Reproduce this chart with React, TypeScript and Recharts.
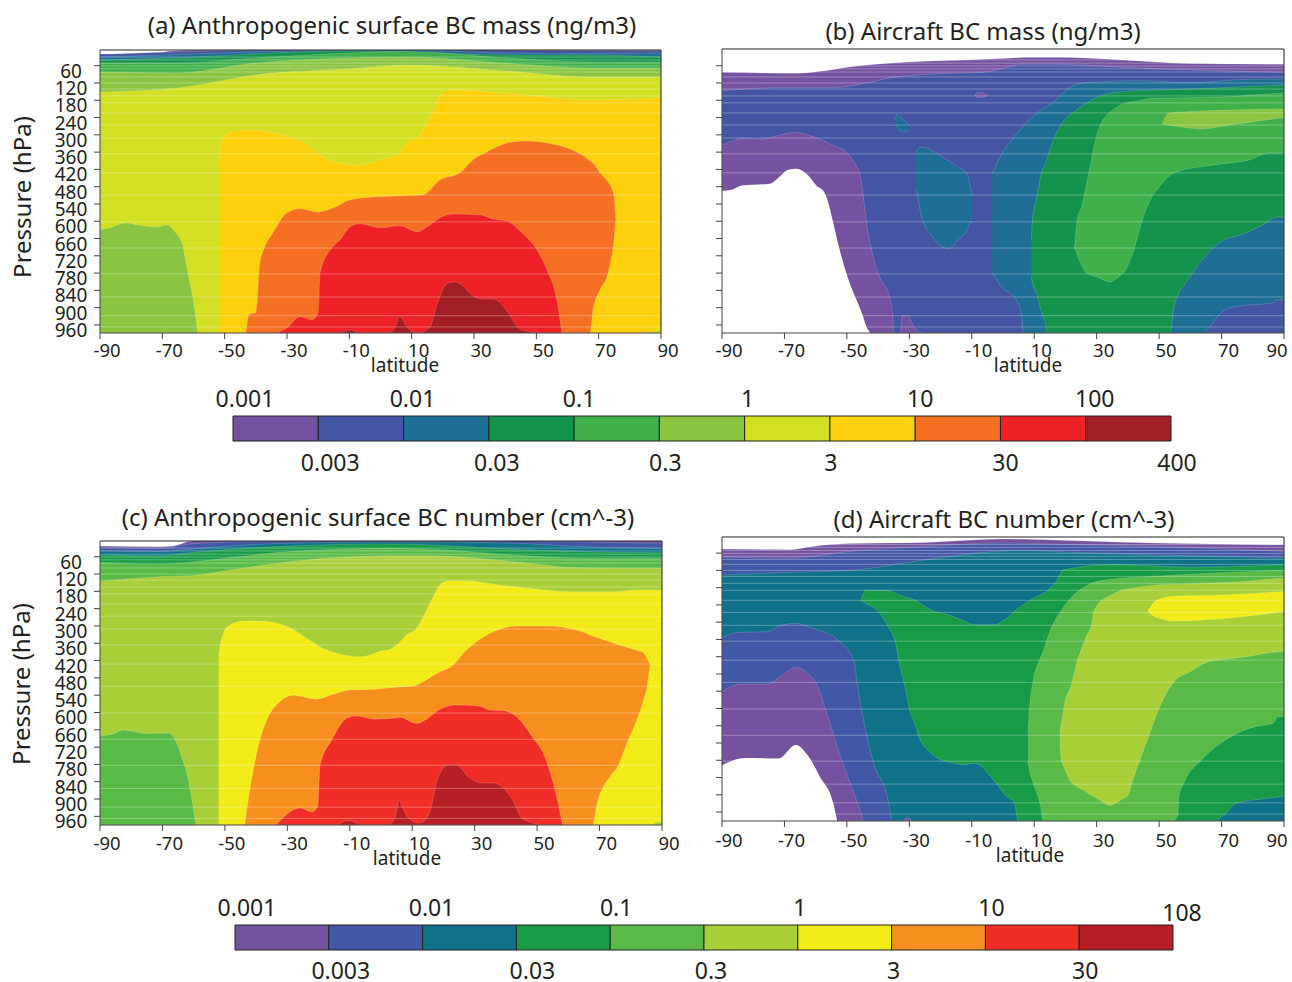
import { Area, AreaChart, Bar, BarChart, ReferenceLine, XAxis, YAxis } from 'recharts'

const FONT = '"Noto Sans", sans-serif'
const INK = '#231f20'

const MASS_COLORS = ['#7552a0', '#4355a3', '#1f6e96', '#14934c', '#40b04a', '#89c540', '#d2df22', '#fcd00a', '#f57023', '#ee2226', '#a21e22']
const NUM_COLORS = ['#7552a0', '#4257a5', '#0f7288', '#179b47', '#59ba47', '#a8cf38', '#f2eb17', '#f78f1e', '#f02d26', '#b81f24']

const LAT_TICKS = [-90, -70, -50, -30, -10, 10, 30, 50, 70, 90]
const P_TICKS = [60, 120, 180, 240, 300, 360, 420, 480, 540, 600, 660, 720, 780, 840, 900, 960]
// model levels, the faint white lines across the contours
const LEVELS = [30, 40, 51, 61, 71, 82, 99, 120, 141, 165, 189, 224, 266, 311, 366, 432, 509, 602, 693, 783, 863, 928, 967]

// Every contour is stored as latitude, upper edge (hPa) and optional lower edge (hPa).
// No lower edge means the band runs down to the surface.

// panel a
const A_TOP_LAT = [-90, -65, -40, -10, 8, 40, 67, 90]
const A_PURPLE_LAT = [-90, -72, -68, -60, 90]
const A_PURPLE = [19, 19, 10, 6, 6]
const A_BLUE = [21, 12, 6, 6, 6, 6, 8, 9]
const A_TEAL = [30, 21, 12, 7, 6, 16, 18, 16]
const A_DARK = [40, 33, 19, 9, 12, 23, 23, 30]
const A_GREEN = [51, 51, 33, 16, 11, 33, 47, 47]
const A_LIGHT = [82, 85, 51, 33, 30, 51, 68, 68]
const A_LIME = [151, 137, 92, 71, 58, 78, 99, 99]
const A_PATCH_LAT = [-90, -86.8, -82, -76.2, -71.7, -68.5, -65.9, -63.7, -61.8, -60.2, -58.6]
const A_PATCH = [630, 623, 606, 616, 620, 613, 637, 675, 779, 863, 988]
const A_GOLD_LAT = [-51.8, -51.2, -49.6, -46.7, -41.9, -35.5, -28, -24.2, -19.4, -13, -7.2, -0.2, 5.3, 8.5, 12.7, 15.9, 19, 22.3, 40.6, 67.2, 90]
const A_GOLD = [405, 335, 300, 287, 283, 290, 311, 328, 370, 398, 406, 387, 370, 328, 300, 241, 169, 144, 155, 179, 172]
const A_ORANGE_LAT = [-43.2, -42.1, -40, -38.7, -37.1, -34.5, -30, -25.8, -20.4, -15.2, -9.8, -2.4, 6.2, 13.6, 19.1, 25.5, 29.7, 34.2, 40.6, 47, 53.4, 64, 67.2, 68.2, 70.4, 73, 74.9, 75.5]
const A_ORANGE = [988, 922, 918, 745, 689, 640, 571, 557, 568, 554, 526, 516, 512, 509, 457, 432, 387, 359, 328, 321, 328, 366, 390, 398, 432, 464, 509, 595]
const A_ORANGE_LOW = [988, 988, 988, 988, 988, 988, 988, 988, 988, 988, 988, 988, 988, 988, 988, 988, 988, 988, 988, 988, 988, 988, 988, 908, 838, 780, 665, 595]
const A_RED_LAT = [-33.2, -30, -25.8, -22, -20, -19.4, -15.6, -13, -9.8, -6.6, -0.2, 6.2, 11.7, 14.9, 19.1, 23.3, 32, 36, 40.6, 44.8, 50.2, 53.4, 56.6, 58.2]
const A_RED = [988, 970, 932, 942, 918, 779, 693, 665, 620, 609, 623, 616, 637, 620, 588, 575, 578, 592, 599, 634, 700, 769, 873, 988]
const A_MAROON_LAT = [3, 4.6, 6.2, 8.5, 12, 15.9, 18.1, 21.6, 23.9, 26.1, 29.3, 32.6, 36.1, 41.5, 44.1, 50.2]
const A_MAROON = [988, 970, 932, 967, 988, 967, 890, 814, 811, 821, 856, 870, 870, 925, 970, 988]
const A_BUMP_LAT = [-13, -9.8, -7.2]
const A_BUMP = [988, 977, 988]
const A_CORNER_LAT = [87.4, 88.5, 90]
const A_CORNER = [988, 975, 975]

// panel b
const B_PURPLE_LAT = [-90, -65.1, -59.7, -45.9, -4.3, 9.4, 17, 38.2, 59.7, 90]
const B_PURPLE = [83, 86, 81, 60, 37, 31, 31, 40, 52, 55]
const B_BLUE_LAT = [-90, -71.5, -54.6, -33.1, -22.6, -6.6, -1.1, 6.2, 17, 38.2, 59.7, 90]
const B_BLUE = [147, 136, 136, 98, 89, 83, 72, 55, 55, 66, 75, 83]
const B_LOW_LAT = [-90, -86.6, -83.4, -78, -72.5, -66.7, -61, -54.6, -49.8, -46.9, -45.9, -45, -44.3, -43.7, -42.1, -39.5, -36.3, -35.4, -35]
const B_LOW = [335, 321, 312, 315, 304, 291, 306, 335, 363, 410, 432, 491, 550, 606, 700, 793, 863, 925, 988]
const B_HOLE_LAT = [-90, -86.9, -83.7, -74.7, -71.5, -69, -66.1, -62.6, -59.4, -57.8, -56.2, -54.6, -52.3, -49.8, -45, -43.7, -42.4]
const B_HOLE = [495, 491, 476, 470, 445, 422, 418, 439, 480, 491, 526, 595, 700, 793, 925, 967, 988]
const B_BUMP_LAT = [-32.8, -32.2, -30.6, -28.3, -26]
const B_BUMP = [988, 928, 928, 970, 988]
const B_DOT_LAT = [-9.1, -8, -7, -6, -5]
const B_DOT = [162, 155, 154, 156, 162]
const B_DOT_LOW = [162, 169, 170, 168, 162]
const B_FLECK_LAT = [-34.4, -34, -32.2, -30]
const B_FLECK = [250, 228, 245, 266]
const B_FLECK_LOW = [266, 272, 289, 283]
const B_ISLE_LAT = [-28, -27.7, -26.1, -22.6, -18.7, -17.1, -14.6, -11.7, -10.1, -9.8]
const B_ISLE = [363, 356, 342, 355, 382, 393, 412, 432, 498, 511]
const B_ISLE_LOW = [491, 498, 585, 653, 693, 696, 665, 636, 601, 601]
const B_TEAL_LAT = [-3.4, -0.2, 3.6, 5.9, 6.5, 11, 15.8, 22.2, 26.7, 43.7, 59.7, 78.9, 90]
const B_TEAL = [432, 363, 307, 276, 269, 224, 189, 130, 119, 112, 119, 107, 106]
const B_TEAL_LOW = [779, 831, 863, 925, 988, 988, 988, 988, 988, 988, 988, 988, 988]
const B_DARK_LAT = [9.1, 9.4, 10.7, 12.6, 13.3, 14.2, 15.8, 19, 23.5, 29.9, 38.2, 59.7, 90]
const B_DARK = [665, 595, 526, 422, 410, 380, 328, 259, 214, 171, 150, 141, 127]
const B_DARK_LOW = [790, 814, 849, 925, 942, 988, 988, 988, 988, 988, 988, 988, 988]
const B_GREEN_LAT = [22.9, 23.8, 25.4, 26.4, 27.7, 29.9, 31.5, 34, 36.6, 39.8, 42.1, 44.6, 47.5, 50.1, 54.9, 63.8, 70.2, 78.9, 85.3, 90]
const B_GREEN = [693, 595, 543, 491, 422, 306, 259, 224, 203, 188, 185, 179, 173, 172, 172, 170, 169, 162, 158, 155]
const B_GREEN_LOW = [693, 717, 758, 776, 786, 793, 800, 811, 797, 758, 693, 595, 519, 480, 432, 410, 401, 387, 363, 363]
const B_LIGHT_LAT = [51, 53.2, 57.4, 63.8, 72.4, 90]
const B_LIGHT = [262, 224, 221, 217, 214, 210]
const B_LIGHT_LOW = [262, 267, 273, 280, 266, 240]
const B_SE_TEAL_LAT = [53.2, 54, 54.4, 56.4, 58.7, 63.8, 69.2, 77.9, 84.3, 87.8, 90]
const B_SE_TEAL = [988, 967, 918, 849, 811, 734, 675, 641, 606, 585, 585]
const B_SE_BLUE_LAT = [64.5, 66.7, 69.2, 74, 86.2, 87.8, 90]
const B_SE_BLUE = [988, 960, 925, 897, 883, 873, 873]

// panel c
const C_TOP_LAT = [-90, -70.8, -61, -48, -29, 3, 15.7, 42.4, 63.7, 90]
const C_PURPLE_LAT = [-90, -70.8, -66.5, -62.2, -59, 90]
const C_PURPLE = [23, 25, 23, 9, 5, 5]
const C_BLUE = [27, 31, 16, 9, 6, 5, 5, 5, 9, 13]
const C_TEAL = [39, 42, 34, 23, 13, 9, 9, 13, 25, 31]
const C_DARK = [54, 57, 46, 34, 23, 16, 19, 34, 42, 46]
const C_GREEN = [80, 86, 79, 63, 42, 31, 34, 54, 65, 65]
const C_LIGHT = [146, 129, 126, 106, 77, 57, 57, 77, 98, 100]
const C_PATCH_LAT = [-90, -86.3, -82.5, -75, -68, -66.5, -63.8, -61.7, -60, -59.3]
const C_PATCH = [681, 676, 661, 673, 671, 684, 754, 835, 939, 990]
const C_YELLOW_LAT = [-52, -51.6, -50.5, -48.4, -44.1, -38.8, -29.1, -23.8, -18.5, -13.1, -6.7, -2.5, -0.3, 2.9, 5, 8.2, 11.4, 13.6, 16.8, 19.4, 22.1, 25.3, 42.4, 61.6, 74.4, 83, 90]
const C_YELLOW = [400, 372, 326, 297, 283, 283, 306, 343, 378, 397, 407, 397, 388, 381, 366, 331, 308, 268, 198, 152, 143, 143, 164, 181, 181, 175, 175]
const C_ORANGE_LAT = [-43.6, -42.2, -40.9, -38.8, -36.6, -32.4, -28.1, -20.6, -16.3, -9.9, -2.5, 2.9, 10.4, 13.6, 17.8, 23.4, 26.4, 30.6, 36, 43.5, 53, 62.7, 67.8, 69.1, 73.3, 75.7, 78.7, 81.9, 84, 85.1, 86.2]
const C_ORANGE = [990, 881, 800, 696, 627, 563, 540, 554, 540, 522, 520, 514, 508, 493, 465, 433, 395, 355, 320, 300, 300, 314, 335, 340, 355, 363, 374, 384, 392, 410, 433]
const C_ORANGE_LOW = [990, 990, 990, 990, 990, 990, 990, 990, 990, 990, 990, 990, 990, 990, 990, 990, 990, 990, 990, 990, 990, 990, 990, 922, 823, 789, 708, 627, 560, 517, 433]
const C_RED_LAT = [-33.6, -25.9, -22.2, -20.3, -19.5, -15.8, -10.5, -7.8, -1.9, 2.9, 6.1, 11.4, 14.1, 18.4, 23.7, 31.7, 34.9, 39.2, 44, 48.8, 52, 55.2, 58.2]
const C_RED = [990, 931, 945, 927, 783, 696, 617, 612, 623, 621, 617, 638, 627, 592, 574, 578, 592, 594, 621, 690, 742, 846, 990]
const C_MAROON_LAT = [2.4, 4.5, 5.9, 6.6, 9.1, 12, 14.6, 16.2, 17.8, 21.6, 24.2, 28, 32.3, 36, 41.9, 45.4, 52]
const C_MAROON = [990, 964, 904, 922, 968, 983, 968, 922, 841, 781, 781, 823, 844, 844, 898, 968, 990]
const C_BUMP_LAT = [-14.2, -10.5, -6.7]
const C_BUMP = [990, 974, 990]
const C_CORNER_LAT = [87.2, 88.5, 90]
const C_CORNER = [990, 980, 980]

// panel d
const D_PURPLE_LAT = [-90, -68.2, -61, -48.9, -24.7, -0.5, 23.6, 47.8, 90]
const D_PURPLE = [46, 48, 37, 27, 23, 11, 17, 25, 31]
const D_BLUE_LAT = [-90, -68.2, -48.9, -24.7, -0.5, 23.6, 47.8, 90]
const D_BLUE = [74, 77, 54, 37, 25, 31, 37, 54]
const D_TEAL_LAT = [-90, -68.2, -48.9, -24.7, 5.5, 23.6, 47.8, 90]
const D_TEAL = [136, 127, 120, 83, 51, 58, 66, 77]
const D_LOW_BLUE_LAT = [-90, -85.2, -75.5, -70.7, -66.4, -61, -52.5, -47.7, -46.7, -44, -41.6, -36.8, -35.6]
const D_LOW_BLUE = [356, 336, 333, 310, 304, 321, 365, 434, 513, 675, 785, 919, 991]
const D_LOW_LAT = [-90, -84, -75.5, -70.7, -66.4, -59.8, -56.8, -51.3, -46.5, -44.7]
const D_LOW = [542, 515, 515, 484, 458, 513, 605, 791, 931, 991]
const D_HOLE_LAT = [-90, -82.7, -71.9, -66.4, -62.2, -58.6, -54.3, -53.1]
const D_HOLE = [797, 772, 774, 727, 768, 838, 931, 991]
const D_BUMP_LAT = [-32.2, -30.5, -29]
const D_BUMP = [991, 980, 991]
const D_DARK_LAT = [-45.5, -44, -40.4, -36.8, -34.4, -33.2, -31.4, -29.6, -28.3, -27.1, -23.5, -16.9, -12.6, -9, -3, 0.7, 3.7, 4.9, 9.7, 13.9, 17, 19.4, 35.7, 59.9, 90]
const D_DARK = [225, 190, 190, 190, 200, 205, 213, 218, 222, 230, 255, 277, 295, 309, 309, 290, 262, 252, 217, 193, 159, 118, 100, 109, 100]
const D_DARK_LOW = [225, 235, 257, 315, 373, 443, 524, 617, 650, 693, 751, 788, 795, 790, 849, 900, 931, 991, 991, 991, 991, 991, 991, 991, 991]
const D_GREEN_LAT = [8, 8.5, 9.7, 11.6, 11.9, 13, 15.2, 18.8, 21.2, 27.3, 33.3, 47.8, 66, 90]
const D_GREEN = [687, 600, 501, 434, 426, 397, 327, 257, 222, 170, 153, 141, 130, 120]
const D_GREEN_LOW = [785, 815, 861, 919, 931, 991, 991, 991, 991, 991, 991, 991, 991, 991]
const D_LIGHT_LAT = [18.2, 18.8, 19.4, 21.8, 23.6, 26.7, 28.5, 29.1, 32.7, 33.9, 38.1, 40, 41.2, 46.6, 50.2, 54.8, 59.9, 66, 72, 78, 84.1, 90]
const D_LIGHT = [675, 645, 600, 520, 443, 350, 300, 263, 217, 210, 188, 185, 182, 174, 170, 169, 167, 164, 162, 158, 152, 147]
const D_LIGHT_LOW = [722, 785, 800, 855, 870, 890, 902, 906, 930, 937, 915, 902, 861, 699, 594, 507, 472, 437, 428, 420, 408, 402]
const D_YELLOW_LAT = [46.4, 49, 49.6, 53.9, 72, 90]
const D_YELLOW = [263, 225, 222, 211, 205, 193]
const D_YELLOW_LOW = [263, 283, 285, 296, 286, 263]
const D_SE_DARK_LAT = [54.5, 56, 56.3, 58.1, 63.5, 72, 80.5, 86.5, 88, 90]
const D_SE_DARK = [991, 971, 908, 855, 780, 704, 664, 652, 629, 629]
const D_SE_TEAL_LAT = [68.1, 71.4, 74.4, 84.1, 90]
const D_SE_TEAL = [991, 965, 931, 913, 905]

const M = MASS_COLORS
const N = NUM_COLORS

type Layer = [string, number[], number[], number[]?]

const LAYERS_A: Layer[] = [
  [M[0], A_PURPLE_LAT, A_PURPLE], [M[1], A_TOP_LAT, A_BLUE], [M[2], A_TOP_LAT, A_TEAL], [M[3], A_TOP_LAT, A_DARK],
  [M[4], A_TOP_LAT, A_GREEN], [M[5], A_TOP_LAT, A_LIGHT], [M[6], A_TOP_LAT, A_LIME], [M[5], A_PATCH_LAT, A_PATCH],
  [M[7], A_GOLD_LAT, A_GOLD], [M[6], A_CORNER_LAT, A_CORNER], [M[8], A_ORANGE_LAT, A_ORANGE, A_ORANGE_LOW],
  [M[9], A_RED_LAT, A_RED], [M[10], A_MAROON_LAT, A_MAROON], [M[10], A_BUMP_LAT, A_BUMP],
]
const LAYERS_B: Layer[] = [
  [M[0], B_PURPLE_LAT, B_PURPLE], [M[1], B_BLUE_LAT, B_BLUE], [M[0], B_LOW_LAT, B_LOW], ['#ffffff', B_HOLE_LAT, B_HOLE],
  [M[0], B_BUMP_LAT, B_BUMP], [M[0], B_DOT_LAT, B_DOT, B_DOT_LOW], [M[2], B_FLECK_LAT, B_FLECK, B_FLECK_LOW],
  [M[2], B_ISLE_LAT, B_ISLE, B_ISLE_LOW], [M[2], B_TEAL_LAT, B_TEAL, B_TEAL_LOW], [M[3], B_DARK_LAT, B_DARK, B_DARK_LOW],
  [M[4], B_GREEN_LAT, B_GREEN, B_GREEN_LOW], [M[5], B_LIGHT_LAT, B_LIGHT, B_LIGHT_LOW], [M[2], B_SE_TEAL_LAT, B_SE_TEAL],
  [M[1], B_SE_BLUE_LAT, B_SE_BLUE],
]
const LAYERS_C: Layer[] = [
  [N[0], C_PURPLE_LAT, C_PURPLE], [N[1], C_TOP_LAT, C_BLUE], [N[2], C_TOP_LAT, C_TEAL], [N[3], C_TOP_LAT, C_DARK],
  [N[4], C_TOP_LAT, C_GREEN], [N[5], C_TOP_LAT, C_LIGHT], [N[4], C_PATCH_LAT, C_PATCH], [N[6], C_YELLOW_LAT, C_YELLOW],
  [N[5], C_CORNER_LAT, C_CORNER], [N[7], C_ORANGE_LAT, C_ORANGE, C_ORANGE_LOW], [N[8], C_RED_LAT, C_RED],
  [N[9], C_MAROON_LAT, C_MAROON], [N[9], C_BUMP_LAT, C_BUMP],
]
const LAYERS_D: Layer[] = [
  [N[0], D_PURPLE_LAT, D_PURPLE], [N[1], D_BLUE_LAT, D_BLUE], [N[2], D_TEAL_LAT, D_TEAL], [N[1], D_LOW_BLUE_LAT, D_LOW_BLUE],
  [N[0], D_LOW_LAT, D_LOW], ['#ffffff', D_HOLE_LAT, D_HOLE], [N[0], D_BUMP_LAT, D_BUMP], [N[3], D_DARK_LAT, D_DARK, D_DARK_LOW],
  [N[4], D_GREEN_LAT, D_GREEN, D_GREEN_LOW], [N[5], D_LIGHT_LAT, D_LIGHT, D_LIGHT_LOW], [N[6], D_YELLOW_LAT, D_YELLOW, D_YELLOW_LOW],
  [N[3], D_SE_DARK_LAT, D_SE_DARK], [N[2], D_SE_TEAL_LAT, D_SE_TEAL],
]

const MASS_TOP = ['0.001', '0.01', '0.1', '1', '10', '100']
const MASS_BOTTOM = ['0.003', '0.03', '0.3', '3', '30', '400']
const NUM_TOP = ['0.001', '0.01', '0.1', '1', '10', '108']
const NUM_BOTTOM = ['0.003', '0.03', '0.3', '3', '30']

function Panel({ left, top, width, height, domain, layers, yLabels, lastDx, labelDy }: {
  left: number; top: number; width: number; height: number; domain: number[]; layers: Layer[]; yLabels: boolean; lastDx: number; labelDy: number
}) {
  const surface = domain[1]
  return (
    <div style={{ position: 'absolute', left: left - 60, top: top - 4 }}>
      <AreaChart width={width + 84} height={height + 40} margin={{ top: 4, right: 24, bottom: 0, left: 0 }}>
        <XAxis
          type="number"
          dataKey="lat"
          domain={[-90, 90]}
          ticks={LAT_TICKS}
          interval={0}
          height={36}
          stroke="#444"
          tickSize={6}
          tickMargin={3}
          tick={(p: any) => (
            <text x={p.x + (p.index === LAT_TICKS.length - 1 ? lastDx : 7)} y={p.y + labelDy} textAnchor="middle" fill={INK} fontSize={18.5} fontFamily={FONT}>
              {p.payload.value}
            </text>
          )}
        />
        <YAxis
          type="number"
          domain={domain}
          reversed
          allowDataOverflow
          ticks={P_TICKS}
          interval={0}
          width={60}
          stroke="#444"
          tickSize={6}
          tickMargin={3}
          tick={(p: any) => yLabels ? (
            <text x={p.x - 20} y={p.y + 12} textAnchor="middle" fill={INK} fontSize={19} fontFamily={FONT}>
              {p.payload.value}
            </text>
          ) : <g />}
        />
        {layers.map(([color, lat, upper, lower], i) => (
          <Area
            key={i}
            data={lat.map((l, k) => ({ lat: l, range: [upper[k], lower ? lower[k] : surface] }))}
            dataKey="range"
            type="monotoneX"
            fill={color}
            fillOpacity={1}
            stroke={color === '#ffffff' ? 'none' : 'rgba(255,255,255,0.28)'}
            strokeWidth={0.6}
            dot={false}
            activeDot={false}
            isAnimationActive={false}
          />
        ))}
        {LEVELS.map((p) => (
          <ReferenceLine key={p} y={p} stroke="rgba(255,255,255,0.3)" strokeWidth={1} />
        ))}
        <ReferenceLine y={domain[0]} stroke="#222" strokeWidth={1.2} />
        <ReferenceLine x={90} stroke="#444" strokeWidth={1.2} />
      </AreaChart>
    </div>
  )
}

// even ticks carry the labels above the bar, odd ticks the ones below it
function ColorBar({ left, top, width, colors, topLabels, bottomLabels, topDx, bottomDx, belowDy, lastTopDy }: {
  left: number; top: number; width: number; colors: string[]; topLabels: string[]; bottomLabels: string[]; topDx: number[]; bottomDx: number[]; belowDy: number; lastTopDy: number
}) {
  const row: Record<string, number | string> = { name: 'bar' }
  colors.forEach((_, i) => { row[`s${i}`] = 1 })
  const n = colors.length
  const positions = [...topLabels.map((_, i) => i * 2), ...bottomLabels.map((_, i) => i * 2 + 1)].sort((a, b) => a - b)
  const renderTick = (props: any) => {
    const v = props.payload.value
    const k = Math.floor(v / 2)
    const isTop = v % 2 === 0
    const dy = isTop ? (k === topLabels.length - 1 ? -1 + lastTopDy : -1) : belowDy
    return (
      <text x={props.x + (isTop ? topDx[k] : bottomDx[k])} y={props.y + dy} textAnchor="middle" fill={INK} fontSize={23} fontFamily={FONT}>
        {isTop ? topLabels[k] : bottomLabels[k]}
      </text>
    )
  }
  return (
    <div style={{ position: 'absolute', left: left - 40, top: top - 40 }}>
      <BarChart width={width + 90} height={105} data={[row]} layout="vertical" barCategoryGap={0} margin={{ top: 0, right: 50, bottom: 40, left: 40 }}>
        <XAxis
          type="number"
          orientation="top"
          domain={[0, n]}
          height={40}
          ticks={positions}
          interval={0}
          tickLine={false}
          axisLine={false}
          tick={renderTick}
        />
        <YAxis type="category" dataKey="name" hide />
        {colors.map((c, i) => (
          <Bar key={i} dataKey={`s${i}`} stackId="a" fill={c} stroke="#222" strokeWidth={1} isAnimationActive={false} />
        ))}
      </BarChart>
    </div>
  )
}

function Caption({ x, y, size, children, rotate }: { x: number; y: number; size: number; children: string; rotate?: boolean }) {
  return (
    <div style={{
      position: 'absolute', left: x, top: y, fontFamily: FONT, fontSize: size, color: INK, whiteSpace: 'nowrap', lineHeight: 1,
      transform: `translate(-50%, -50%)${rotate ? ' rotate(-90deg)' : ''}`,
    }}>
      {children}
    </div>
  )
}

export default function App() {
  return (
    <div style={{ position: 'absolute', left: 0, top: 0, width: 1292, height: 982, background: '#fff', overflow: 'hidden' }}>
      <Caption x={392} y={25} size={24}>(a) Anthropogenic surface BC mass (ng/m3)</Caption>
      <Caption x={983} y={31} size={24}>(b) Aircraft BC mass (ng/m3)</Caption>
      <Caption x={378} y={517} size={24}>(c) Anthropogenic surface BC number (cm^-3)</Caption>
      <Caption x={1004} y={519} size={24}>(d) Aircraft BC number (cm^-3)</Caption>
      <Caption x={22} y={197} size={24} rotate>Pressure (hPa)</Caption>
      <Caption x={21} y={684} size={24} rotate>Pressure (hPa)</Caption>

      <Panel left={100} top={50} width={561} height={283} domain={[5.5, 988]} layers={LAYERS_A} yLabels lastDx={7} labelDy={15} />
      <Panel left={722} top={49} width={562} height={284} domain={[2, 988]} layers={LAYERS_B} yLabels={false} lastDx={-7} labelDy={15} />
      <Panel left={100} top={541} width={562} height={284} domain={[5.5, 990]} layers={LAYERS_C} yLabels lastDx={7} labelDy={16} />
      <Panel left={722} top={537} width={562} height={284} domain={[4, 991]} layers={LAYERS_D} yLabels={false} lastDx={-7} labelDy={17} />

      <Caption x={405} y={365} size={19}>latitude</Caption>
      <Caption x={1028} y={365} size={19}>latitude</Caption>
      <Caption x={407} y={858} size={19}>latitude</Caption>
      <Caption x={1030} y={855} size={19}>latitude</Caption>

      <ColorBar left={233} top={416} width={938} colors={MASS_COLORS} topLabels={MASS_TOP} bottomLabels={MASS_BOTTOM} topDx={[12, 9, 5, 3, 5, 9]} bottomDx={[12, 8, 6, 1, 5, 6]} belowDy={63} lastTopDy={0} />
      <ColorBar left={235} top={925} width={938} colors={NUM_COLORS} topLabels={NUM_TOP} bottomLabels={NUM_BOTTOM} topDx={[12, 9, 6, 2, 6, 9]} bottomDx={[12, 16, 7, 2, 6]} belowDy={62} lastTopDy={5} />
    </div>
  )
}
